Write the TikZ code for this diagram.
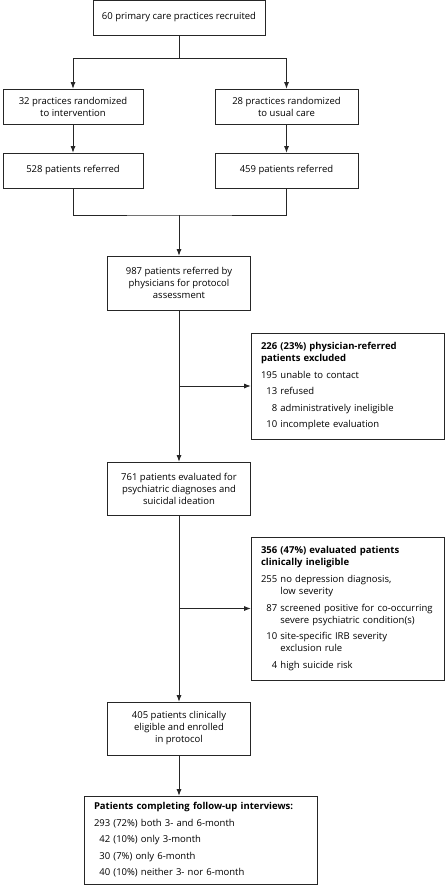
\documentclass[tikz,border=0pt]{standalone}
\usepackage{fontspec}
\setmainfont{Open Sans}
\usetikzlibrary{arrows.meta, positioning}

\begin{document}
\begin{tikzpicture}[x=1pt, y=-1pt,
        font=\fontsize{9.5}{12}\selectfont,
        >={Latex[length=6.5pt,width=5pt]},
        every edge/.style={->,draw=black!85,line width=0.75pt},
        link/.style={draw=black!85,line width=0.75pt},
        stage/.style={draw=black!85,line width=0.75pt,align=center,inner sep=2pt,minimum height=35pt},
        excl/.style={draw=black!85,line width=0.75pt,align=left,inner xsep=10pt,inner ysep=5pt,text width=173pt},
        tally/.style={draw=black!85,line width=0.75pt,align=left,inner xsep=10pt,inner ysep=5pt,text width=213pt},]

        \useasboundingbox (0,0) rectangle (445,886);

        \node[stage, minimum width=172pt] (rec) at (179,17.5) {60 primary care practices recruited};

        \node[stage, minimum width=140pt] (int) at (73,106.5) {32 practices randomized\\to intervention};
        \node[stage, minimum width=143pt] (usu) at (286.5,106.5) {28 practices randomized\\to usual care};
        \node[stage, minimum width=140pt] (refA) at (73,170.5) {528 patients referred};
        \node[stage, minimum width=143pt] (refB) at (286.5,170.5) {459 patients referred};

        \node[stage, minimum width=143pt, minimum height=54pt] (ref) at (179,283) {987 patients referred by\\physicians for protocol\\assessment};
        \node[stage, minimum width=143pt, minimum height=53pt] (eval) at (179,488.5) {761 patients evaluated for\\psychiatric diagnoses and\\suicidal ideation};
        \node[stage, minimum width=143pt, minimum height=53pt] (enr) at (179,728.5) {405 patients clinically\\eligible and enrolled\\in protocol};

        \node[excl, minimum height=106pt] (exA) at (347.5,386) {%
            \begin{tabular}{@{}r@{\ }l@{}}
            \multicolumn{2}{@{}l@{}}{\textbf{226 (23\%) physician-referred}}\\
            \multicolumn{2}{@{}l@{}}{\textbf{patients excluded}}\\[5pt]
            195 & unable to contact\\[4.5pt]
            13 & refused\\[4.5pt]
            8 & administratively ineligible\\[4.5pt]
            10 & incomplete evaluation
            \end{tabular}};

        \node[excl, minimum height=143pt] (exB) at (347.5,608.5) {%
            \begin{tabular}{@{}r@{\ }l@{}}
            \multicolumn{2}{@{}l@{}}{\textbf{356 (47\%) evaluated patients}}\\
            \multicolumn{2}{@{}l@{}}{\textbf{clinically ineligible}}\\[5pt]
            255 & no depression diagnosis,\\
                & low severity\\[4.5pt]
            87 & screened positive for co-occurring\\
               & severe psychiatric condition(s)\\[4.5pt]
            10 & site-specific IRB severity\\
               & exclusion rule\\[4.5pt]
            4 & high suicide risk
            \end{tabular}};

        \node[tally, minimum height=88.5pt] (fup) at (200.5,840.25) {%
            \begin{tabular}{@{}r@{\ }l@{}}
            \multicolumn{2}{@{}l@{}}{\textbf{Patients completing follow-up interviews:}}\\[4.5pt]
            293 & (72\%) both 3- and 6-month\\[4.5pt]
            42 & (10\%) only 3-month\\[4.5pt]
            30 & (7\%) only 6-month\\[4.5pt]
            40 & (10\%) neither 3- nor 6-month
            \end{tabular}};

        \coordinate (split) at (179,58);
        \coordinate (merge) at (179,215);

        \draw[link] (rec) -- (split);
        \draw[link, ->] (split) -| (int);
        \draw[link, ->] (split) -| (usu);
        \path (int) edge (refA);
        \path (usu) edge (refB);
        \draw[link] (refA) |- (merge) -| (refB);
        \path (merge) edge (ref);
        \path (ref) edge (eval);
        \path (ref.south |- exA.west) edge (exA);
        \path (eval) edge (enr);
        \path (eval.south |- exB.west) edge (exB);
        \path (enr) edge (enr |- fup.north);

    \end{tikzpicture}
\end{document}
